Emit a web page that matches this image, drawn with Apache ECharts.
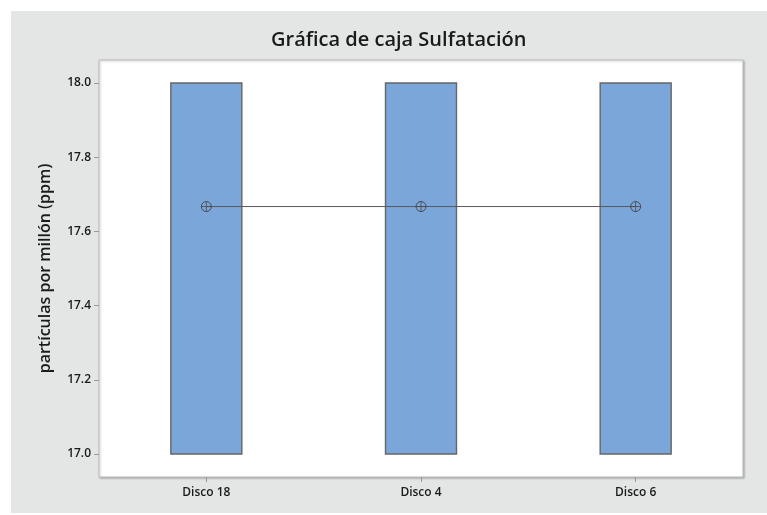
<!DOCTYPE html>
<html>
<head>
<meta charset="utf-8">
<script src="https://cdn.jsdelivr.net/npm/echarts@6/dist/echarts.min.js"></script>
<style>
  html, body { margin: 0; padding: 0; background: #ffffff; }
  #main { width: 767px; height: 515px; }
</style>
</head>
<body>
<div id="main"></div>
<script>
// datos
var categorias = ['Disco 18', 'Disco 4', 'Disco 6'];
// [min, Q1, mediana, Q3, max]
var cajas = [
    [17, 17, 18, 18, 18],
    [17, 17, 18, 18, 18],
    [17, 17, 18, 18, 18]
];
var medias = [17.667, 17.667, 17.667];
var ticksY = [17.0, 17.2, 17.4, 17.6, 17.8, 18.0];

var chart = echarts.init(document.getElementById('main'));

var option = {
    backgroundColor: '#ffffff',
    animation: false,
    graphic: [{
        type: 'rect',
        z: -10,
        shape: { x: 11, y: 11, width: 756, height: 502 },
        style: { fill: '#e4e5e5' }
    }],
    title: {
        text: 'Gráfica de caja Sulfatación',
        left: 266,
        top: 25,
        textStyle: {
            fontFamily: 'Open Sans',
            fontSize: 20,
            fontWeight: 600,
            color: '#1a1a1a'
        }
    },
    grid: {
        left: 99,
        right: 24,
        top: 60,
        bottom: 38,
        show: true,
        backgroundColor: '#ffffff',
        borderColor: '#bdbdbd',
        borderWidth: 1,
        shadowColor: 'rgba(0,0,0,0.25)',
        shadowBlur: 2,
        shadowOffsetX: 1,
        shadowOffsetY: 1
    },
    xAxis: {
        type: 'category',
        data: categorias,
        boundaryGap: true,
        axisLine: { show: false },
        axisTick: {
            show: true,
            alignWithLabel: true,
            length: 5,
            lineStyle: { color: '#9a9a9a' }
        },
        axisLabel: {
            margin: 10,
            fontFamily: 'Open Sans',
            fontSize: 12,
            fontWeight: 600,
            color: '#1a1a1a'
        },
        splitLine: { show: false }
    },
    yAxis: {
        type: 'value',
        min: 16.938,
        max: 18.062,
        name: 'partículas por millón (ppm)',
        nameLocation: 'middle',
        nameGap: 46,
        nameTextStyle: {
            fontFamily: 'Open Sans',
            fontSize: 16,
            fontWeight: 600,
            color: '#1a1a1a'
        },
        axisLine: { show: false },
        axisTick: {
            show: true,
            length: 5,
            customValues: ticksY,
            lineStyle: { color: '#9a9a9a' }
        },
        axisLabel: {
            margin: 8,
            fontFamily: 'Open Sans',
            fontSize: 12,
            fontWeight: 600,
            color: '#1a1a1a',
            customValues: ticksY,
            formatter: function (v) { return v.toFixed(1); }
        },
        splitLine: { show: false }
    },
    series: [{
        type: 'boxplot',
        data: cajas,
        boxWidth: [71, 71],
        itemStyle: {
            color: '#7ba6d9',
            borderColor: '#666666',
            borderWidth: 1.4
        },
        emphasis: { disabled: true }
    }, {
        type: 'line',
        data: medias,
        symbol: 'circle',
        symbolSize: 10,
        showSymbol: true,
        lineStyle: { color: '#5a5a5a', width: 1 },
        itemStyle: {
            color: 'transparent',
            borderColor: '#4a4a4a',
            borderWidth: 1
        },
        z: 5
    }, {
        type: 'scatter',
        data: medias,
        symbol: 'path://M5,0 L5,10 M0,5 L10,5',
        symbolSize: 10,
        itemStyle: {
            color: 'transparent',
            borderColor: '#4a4a4a',
            borderWidth: 1
        },
        z: 6
    }]
};

chart.setOption(option);
</script>
</body>
</html>
